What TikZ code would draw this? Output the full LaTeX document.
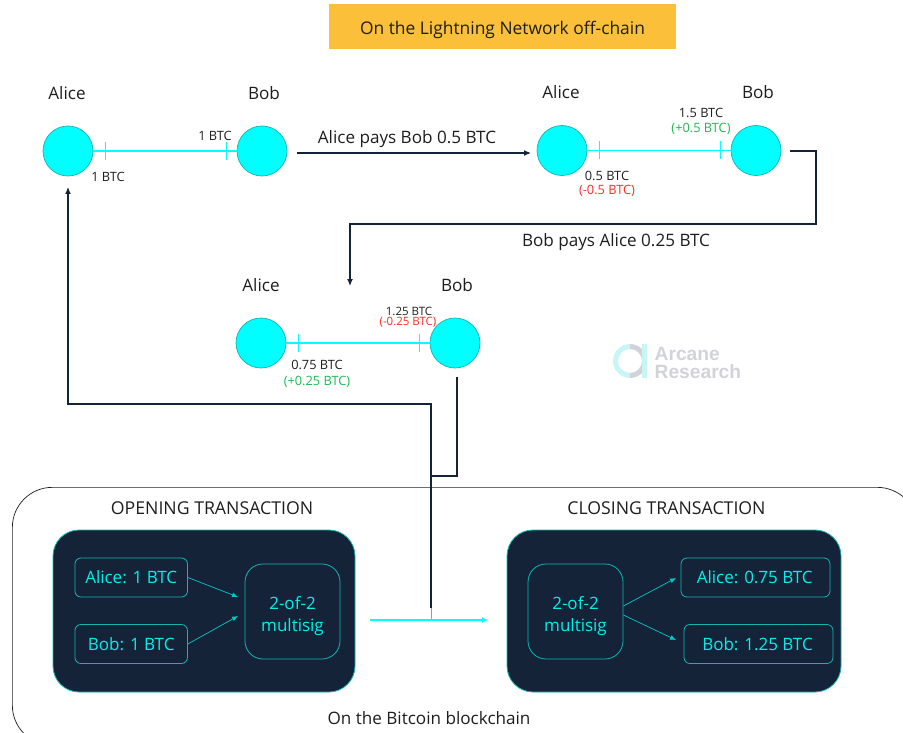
\documentclass[tikz,border=0pt]{standalone}
\usepackage{fontspec}
\setmainfont{Open Sans}
\newfontfamily\logofont{Liberation Sans}
\usetikzlibrary{arrows.meta}
\definecolor{navy}{HTML}{152338}
\definecolor{aqua}{HTML}{00FFFF}
\definecolor{teal}{HTML}{14B4B2}
\definecolor{txtaqua}{HTML}{00F0EC}
\definecolor{ink}{HTML}{1E1E1E}
\definecolor{gain}{HTML}{1DB954}
\definecolor{loss}{HTML}{FF2A2A}
\definecolor{gold}{HTML}{FBBF3A}
\definecolor{logogray}{HTML}{D2D2DA}
\definecolor{logoaqua}{HTML}{C8F6F6}
\tikzset{
  x=1pt,y=-1pt,
  party/.style={circle,draw=teal,fill=aqua,line width=0.7pt,minimum size=50pt,inner sep=0pt},
  big/.style={inner sep=0pt,text=ink,font=\fontsize{17.1}{20}\selectfont},
  head/.style={inner sep=0pt,text=ink,font=\fontsize{17.7}{20}\selectfont},
  small/.style={inner sep=0pt,text=ink,font=\fontsize{12.8}{15}\selectfont},
  chan/.style={draw=aqua,line width=1.5pt},
  tick/.style={draw=aqua,line width=1pt},
  flow/.style={draw=navy,line width=1.2pt,-{Latex[length=7pt,width=6pt]}},
  plain/.style={draw=navy,line width=1.2pt},
  panel/.style={draw=teal,fill=navy,line width=0.8pt,rounded corners=26pt,inner sep=0pt},
  entry/.style={draw=teal,line width=0.8pt,rounded corners=6pt,inner sep=0pt,minimum height=39pt,text=txtaqua,font=\fontsize{17}{22}\selectfont,align=center},
  sigbox/.style={entry,rounded corners=18pt,minimum width=95pt,minimum height=95pt},
  thin flow/.style={draw=txtaqua!80!navy,line width=0.7pt,-{Latex[length=6pt,width=5pt]}},
  logotxt/.style={inner sep=0pt,anchor=west,text=logogray,font=\logofont\bfseries\fontsize{19.2}{20}\selectfont},
}
\begin{document}
\begin{tikzpicture}
\useasboundingbox (0,0) rectangle (903,733);
% outer frame, cut by the page edge
\begin{scope}
\clip (0,0) rectangle (903,733);
\node[draw=ink,line width=0.7pt,rounded corners=40pt,minimum width=905pt,minimum height=258pt,inner sep=0pt,anchor=north west] (frame) at (12,487) {};
\end{scope}
% title
\node[fill=gold,minimum width=347pt,minimum height=45pt,inner sep=0pt] (title) at (502.5,26.5) {};
\node[inner sep=0pt,text=ink,font=\fontsize{17.4}{20}\selectfont] (titletext) at (502.5,29.5) {On the Lightning Network off-chain};
% parties
\node[party] (a1) at (68,151) {};
\node[party] (b1) at (262,151) {};
\node[party] (a2) at (562,150.5) {};
\node[party] (b2) at (756,150.5) {};
\node[party] (a3) at (261,343) {};
\node[party] (b3) at (455,343) {};
\node[big] (la1) at (67,93) {Alice};
\node[big] (lb1) at (264,93) {Bob};
\node[big] (la2) at (561,92) {Alice};
\node[big] (lb2) at (758,92) {Bob};
\node[big] (la3) at (261,285) {Alice};
\node[big] (lb3) at (457,285) {Bob};
% channels
\draw[chan] (a1) -- (b1);
\draw[chan] (a2) -- (b2);
\draw[chan] (a3) -- (b3);
\foreach \n/\x/\y in {t1/105/151,t2/226/151,t3/599/150.5,t4/720/150.5,t5/298/343,t6/419/343}{
  \coordinate (\n) at (\x,\y);
  \draw[tick] ([yshift=9pt]\n) -- ([yshift=-9pt]\n);
}
% balances
\node[small] (s1) at (215,136) {1 BTC};
\node[small] (s2) at (108,177) {1 BTC};
\node[small] (s3) at (701,113) {1.5 BTC};
\node[small,text=gain] (s4) at (701,129) {(+0.5 BTC)};
\node[small] (s5) at (607,176) {0.5 BTC};
\node[small,text=loss] (s6) at (607,190.5) {(-0.5 BTC)};
\node[small,font=\fontsize{11.5}{14}\selectfont] (s7) at (409,311) {1.25 BTC};
\node[small,font=\fontsize{11.5}{14}\selectfont,text=loss] (s8) at (408,322) {(-0.25 BTC)};
\node[small] (s9) at (317,365) {0.75 BTC};
\node[small,text=gain] (s10) at (317,382) {(+0.25 BTC)};
% payments
\node[big] (p1) at (407,139) {Alice pays Bob 0.5 BTC};
\node[big] (p2) at (616,242) {Bob pays Alice 0.25 BTC};
\coordinate (f1s) at (297,153);
\coordinate (f1e) at (531,153);
\draw[flow] (f1s) -- (f1e);
\coordinate (f2s) at (790,151);
\coordinate (f2e) at (350,286);
\draw[flow] (f2s) -- (816,151) -- (816,224) -- (350,224) -- (f2e);
\coordinate (f3s) at (457,377);
\coordinate (f3e) at (431,608);
\coordinate (f3m) at (431,620);
\draw[plain] (f3s) -- (457,476) -- (431,476) -- (f3e);
\draw[draw=navy!45,line width=0.8pt] (f3e) -- (f3m);
\coordinate (f4e) at (68,187);
\draw[flow] (431,476) -- (431,404) -- (68,404) -- (f4e);
% logo
\fill[logoaqua] (630,344) arc[start angle=90,end angle=270,radius=17pt] -- (630,373) arc[start angle=270,end angle=90,radius=12pt] -- cycle;
\fill[logogray] (630,344) arc[start angle=90,end angle=-90,radius=17pt] -- (630,373) arc[start angle=-90,end angle=90,radius=12pt] -- cycle;
\fill[logoaqua] (642,344) rectangle (647,378);
\node[logotxt] (l1) at (654.5,353.5) {Arcane};
\node[logotxt] (l2) at (654.5,371.5) {Research};
% blockchain section
\node[head] (h1) at (212,508) {OPENING TRANSACTION};
\node[head] (h2) at (666.5,508) {CLOSING TRANSACTION};
\node[big] (h3) at (429,718) {On the Bitcoin blockchain};
\node[panel,minimum width=302pt,minimum height=162pt] (pa) at (204,611) {};
\node[panel,minimum width=334pt,minimum height=162pt] (pb) at (674,611) {};
\coordinate (cs) at (370,620);
\coordinate (ce) at (488,620);
\draw[draw=aqua,line width=1.5pt,-{Latex[length=6pt,width=6pt]}] (cs) -- (ce);
\node[entry,minimum width=112.5pt] (ea) at (131.2,577.5) {\raisebox{-1pt}{Alice: 1 BTC}};
\node[entry,minimum width=112.5pt] (eb) at (131.2,644) {Bob: 1 BTC};
\node[sigbox] (sa) at (292.5,611.5) {\\[-0pt]2-of-2\\multisig};
\node[sigbox] (sb) at (575.5,611.5) {\\[-0pt]2-of-2\\multisig};
\node[entry,minimum width=149pt] (ec) at (755.5,577.5) {\raisebox{-1pt}{Alice: 0.75 BTC\hspace{1.5pt}}};
\node[entry,minimum width=149pt] (ed) at (758.5,644) {Bob: 1.25 BTC\hspace{2pt}};
\coordinate (i1) at (238,597);
\coordinate (i2) at (238,616);
\coordinate (o1) at (676,578);
\coordinate (o2) at (676,640);
\draw[thin flow] (ea.east) -- (i1);
\draw[thin flow] (eb.east) -- (i2);
\draw[thin flow] ([yshift=5.5pt]sb.east) -- (o1);
\draw[thin flow] ([yshift=-3.5pt]sb.east) -- (o2);
\end{tikzpicture}
\end{document}
